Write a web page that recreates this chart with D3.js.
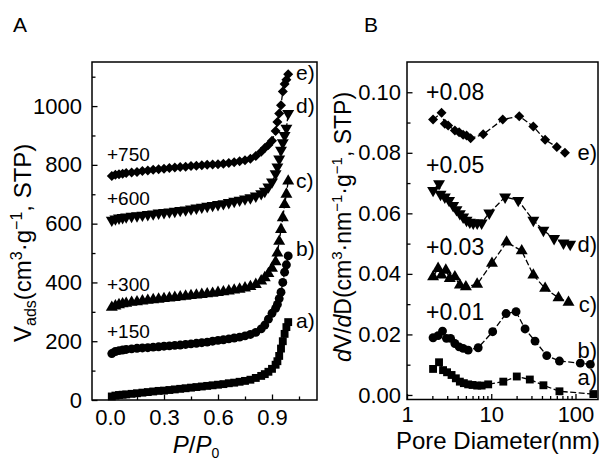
<!DOCTYPE html>
<html>
<head>
<meta charset="utf-8">
<script src="https://cdn.jsdelivr.net/npm/d3@7"></script>
<style>
  body { margin: 0; background: #fff; }
  svg { display: block; font-family: "Liberation Sans", Arial, sans-serif; }
</style>
</head>
<body>
<svg width="606" height="463"></svg>
<script>
// ---- panel A: isotherms (values already shifted by their offsets) ----
const pGrid = [0.01, 0.03, 0.05, 0.07, 0.09, 0.12, 0.15, 0.18, 0.21, 0.24, 0.27, 0.30, 0.33, 0.36,
  0.39, 0.42, 0.45, 0.48, 0.51, 0.54, 0.57, 0.60, 0.63, 0.66, 0.69, 0.72, 0.75, 0.78, 0.81, 0.84,
  0.86, 0.88, 0.90, 0.92, 0.93, 0.94, 0.95, 0.96, 0.97, 0.98, 0.99];
const isoA = [12, 15, 17, 18, 19, 21, 23, 25, 27, 29, 31, 32, 34, 36, 38, 40, 42, 44, 46, 48, 50,
  52, 54, 57, 59, 62, 65, 69, 75, 82, 88, 96, 106, 120, 132, 150, 175, 200, 225, 248, 265];
const isoB = [158, 165, 168, 170, 172, 174, 176, 177, 178, 180, 181, 183, 184, 186, 187, 189, 191,
  193, 195, 197, 200, 203, 205, 208, 211, 214, 218, 223, 230, 242, 255, 275, 295, 312, 325, 345,
  367, 400, 435, 460, 490];
const isoC = [315, 320, 324, 327, 329, 332, 334, 337, 339, 341, 343, 345, 347, 349, 351, 353, 355,
  357, 359, 361, 363, 366, 368, 371, 374, 377, 381, 386, 393, 405, 416, 430, 448, 470, 500, 540,
  580, 620, 665, 700, 745];
const isoD = [612, 616, 619, 621, 623, 625, 627, 629, 631, 633, 636, 638, 640, 642, 645, 647, 650,
  653, 656, 659, 662, 665, 668, 672, 676, 680, 684, 688, 694, 702, 710, 725, 742, 770, 793, 820,
  850, 875, 900, 925, 975];
const isoE = [762, 766, 768, 770, 772, 774, 776, 779, 781, 783, 785, 787, 789, 791, 793, 794, 796,
  797, 799, 800, 801, 802, 804, 806, 809, 812, 816, 821, 830, 845, 857, 868, 882, 915, 946, 975,
  1003, 1050, 1075, 1090, 1108];
const isoOffsets = ["+150", "+300", "+600", "+750"];
const isoNames = ["a)", "b)", "c)", "d)", "e)"];

// ---- panel B: pore size distributions ----
const poreA = [2.04, 2.40, 2.68, 2.99, 3.38, 3.80, 4.24, 4.73, 5.32, 6.0, 6.81, 7.69, 9.2, 13.9, 20.1, 28.7, 41.6, 64.5, 163];
const psdA = [0.0086, 0.0108, 0.0082, 0.0075, 0.0066, 0.0055, 0.0044, 0.0039, 0.0035, 0.0033, 0.0031, 0.0031, 0.0035, 0.0044, 0.0061, 0.0051, 0.0032, 0.0012, 0.0003];
const poreB = [2.04, 2.34, 2.64, 2.94, 3.29, 3.70, 4.16, 4.64, 5.32, 7.0, 10.4, 15.0, 19.7, 25.2, 33.1, 45.6, 64.5, 114, 150];
const psdB = [0.0189, 0.0196, 0.0211, 0.0187, 0.0187, 0.0170, 0.0159, 0.0154, 0.0148, 0.0156, 0.0209, 0.0269, 0.0275, 0.0218, 0.0178, 0.0130, 0.0112, 0.0105, 0.0101];
const poreC = [2.04, 2.34, 2.57, 2.89, 3.22, 3.70, 4.24, 5.0, 6.8, 10.2, 15.2, 23.0, 31.6, 43.6, 62.8, 82.6];
const psdC = [0.0390, 0.0418, 0.0396, 0.0412, 0.0385, 0.0390, 0.0363, 0.0357, 0.0366, 0.0435, 0.0505, 0.0476, 0.0396, 0.0352, 0.0321, 0.0306];
const poreD = [2.04, 2.40, 2.50, 2.81, 3.16, 3.53, 3.87, 4.24, 4.64, 5.09, 5.57, 6.11, 6.81, 7.69, 9.47, 14.6, 20.9, 31.6, 41.6, 55.7, 72, 86.5];
const psdD = [0.0676, 0.0698, 0.0663, 0.0654, 0.0643, 0.0626, 0.0612, 0.0599, 0.0588, 0.0577, 0.0571, 0.0568, 0.0568, 0.0568, 0.0601, 0.0654, 0.0643, 0.0577, 0.0544, 0.0517, 0.0502, 0.0498];
const poreE = [2.04, 2.57, 2.81, 3.08, 3.70, 4.16, 4.64, 5.09, 5.69, 8.03, 13.7, 21.5, 31.6, 43.6, 60.0, 75];
const psdE = [0.0910, 0.0932, 0.0896, 0.0890, 0.0874, 0.0868, 0.0860, 0.0857, 0.0848, 0.0861, 0.0910, 0.0921, 0.0887, 0.0843, 0.0819, 0.0800];
const psdOffsets = ["+0.01", "+0.03", "+0.05", "+0.08"];

const svg = d3.select("svg");
const font = 22;

// marker shapes, same order for a..e
const shapes = [
  { type: d3.symbolSquare, size: 62, rot: 0 },
  { type: d3.symbolCircle, size: 62, rot: 0 },
  { type: d3.symbolTriangle, size: 62, rot: 0 },
  { type: d3.symbolTriangle, size: 62, rot: 180 },
  { type: d3.symbolSquare, size: 50, rot: 45 }
];

function drawSeries(g, xs, ys, x, y, shape, dash) {
  const pts = xs.map((v, i) => [x(v), y(ys[i])]);
  g.append("path")
    .attr("d", d3.line()(pts))
    .attr("fill", "none")
    .attr("stroke", "#000")
    .attr("stroke-width", 1.3)
    .attr("stroke-dasharray", dash);
  g.selectAll(null)
    .data(pts)
    .enter()
    .append("path")
    .attr("d", d3.symbol().type(shape.type).size(shape.size))
    .attr("transform", d => "translate(" + d[0] + "," + d[1] + ") rotate(" + shape.rot + ")")
    .attr("fill", "#000");
}

function styleAxis(sel) {
  sel.select(".domain").remove();
  sel.selectAll("line").attr("stroke", "#000").attr("stroke-width", 1.3);
  sel.selectAll("text").attr("font-size", font).attr("fill", "#000")
    .attr("font-family", "Liberation Sans, Arial, sans-serif");
}

// ================= panel A =================
const xA = d3.scaleLinear().domain([-0.1, 1.15]).range([92, 317]);
const yA = d3.scaleLinear().domain([0, 1150]).range([400, 62]);

const gA = svg.append("g");

gA.append("g").attr("transform", "translate(0,400)")
  .call(d3.axisBottom(xA).tickValues([0.15, 0.45, 0.75, 1.05]).tickSize(-3.5).tickFormat(""))
  .call(styleAxis);
gA.append("g").attr("transform", "translate(0,400)")
  .call(d3.axisBottom(xA).tickValues([0, 0.3, 0.6, 0.9]).tickSize(-5.5).tickPadding(9)
    .tickFormat(d3.format(".1f")))
  .call(styleAxis);
gA.append("g").attr("transform", "translate(92,0)")
  .call(d3.axisLeft(yA).tickValues([100, 300, 500, 700, 900, 1100]).tickSize(-3.5).tickFormat(""))
  .call(styleAxis);
gA.append("g").attr("transform", "translate(92,0)")
  .call(d3.axisLeft(yA).tickValues([0, 200, 400, 600, 800, 1000]).tickSize(-5.5).tickPadding(10)
    .tickFormat(d3.format("d")))
  .call(styleAxis);

[isoA, isoB, isoC, isoD, isoE].forEach((ys, i) => drawSeries(gA, pGrid, ys, xA, yA, shapes[i], "5,2"));

gA.append("rect").attr("x", 92).attr("y", 62).attr("width", 225).attr("height", 338)
  .attr("fill", "none").attr("stroke", "#000").attr("stroke-width", 1.5);

// offsets and series names
const isoOffsetY = [338, 291, 205, 161];
isoOffsets.forEach((t, i) => {
  gA.append("text").attr("x", 107).attr("y", isoOffsetY[i]).attr("font-size", 19).text(t);
});
const isoNameY = [328, 256, 188, 113, 80];
isoNames.forEach((t, i) => {
  gA.append("text").attr("x", 296).attr("y", isoNameY[i]).attr("font-size", 21).text(t);
});

// axis titles A
const yTitleA = gA.append("text")
  .attr("transform", "translate(31,342) rotate(-90)")
  .attr("text-anchor", "start")
  .attr("font-size", 24);
yTitleA.append("tspan").text("V");
yTitleA.append("tspan").attr("font-size", 16).attr("dy", 5).text("ads");
yTitleA.append("tspan").attr("dy", -5).text("(cm");
yTitleA.append("tspan").attr("font-size", 16).attr("dy", -9).text("3");
yTitleA.append("tspan").attr("dy", 9).text("·g");
yTitleA.append("tspan").attr("font-size", 16).attr("dy", -9).text("−1");
yTitleA.append("tspan").attr("dy", 9).text(", STP)");

const xTitleA = gA.append("text")
  .attr("x", 196).attr("y", 453)
  .attr("text-anchor", "middle")
  .attr("font-size", 24);
xTitleA.append("tspan").attr("font-style", "italic").text("P");
xTitleA.append("tspan").text("/");
xTitleA.append("tspan").attr("font-style", "italic").text("P");
xTitleA.append("tspan").attr("font-size", 14).attr("dy", 5).text("0");

svg.append("text").attr("x", 13).attr("y", 32).attr("font-size", 21).text("A");

// ================= panel B =================
const xB = d3.scaleLog().domain([1, 185]).range([407, 598]);
const yB = d3.scaleLinear().domain([-0.0015, 0.11]).range([399.5, 62]);

const gB = svg.append("g");

const logMinor = xB.ticks().filter(d => ![1, 10, 100].includes(d));
gB.append("g").attr("transform", "translate(0,399.5)")
  .call(d3.axisBottom(xB).tickValues(logMinor).tickSize(-3.5).tickFormat(""))
  .call(styleAxis);
gB.append("g").attr("transform", "translate(0,399.5)")
  .call(d3.axisBottom(xB).tickValues([1, 10, 100]).tickSize(-5.5).tickPadding(7)
    .tickFormat(d3.format("d")))
  .call(styleAxis);
gB.append("g").attr("transform", "translate(407,0)")
  .call(d3.axisLeft(yB).tickValues([0.01, 0.03, 0.05, 0.07, 0.09]).tickSize(-3.5).tickFormat(""))
  .call(styleAxis);
gB.append("g").attr("transform", "translate(407,0)")
  .call(d3.axisLeft(yB).tickValues([0, 0.02, 0.04, 0.06, 0.08, 0.10]).tickSize(-5.5).tickPadding(6)
    .tickFormat(d3.format(".2f")))
  .call(styleAxis);

[[poreA, psdA], [poreB, psdB], [poreC, psdC], [poreD, psdD], [poreE, psdE]]
  .forEach((s, i) => drawSeries(gB, s[0], s[1], xB, yB, shapes[i], "6,2.5"));

gB.append("rect").attr("x", 407).attr("y", 62).attr("width", 191).attr("height", 337.5)
  .attr("fill", "none").attr("stroke", "#000").attr("stroke-width", 1.5);

const psdOffsetY = [320, 255, 173, 100];
psdOffsets.forEach((t, i) => {
  gB.append("text").attr("x", 426).attr("y", psdOffsetY[i]).attr("font-size", 23).text(t);
});
const psdNameY = [385, 358, 312, 252, 160];
isoNames.forEach((t, i) => {
  gB.append("text").attr("x", 597).attr("y", psdNameY[i]).attr("text-anchor", "end")
    .attr("font-size", 22).text(t);
});

const yTitleB = gB.append("text")
  .attr("transform", "translate(351,362) rotate(-90)")
  .attr("text-anchor", "start")
  .attr("font-size", 23);
yTitleB.append("tspan").attr("font-style", "italic").text("d");
yTitleB.append("tspan").text("V/");
yTitleB.append("tspan").attr("font-style", "italic").text("d");
yTitleB.append("tspan").text("D(cm");
yTitleB.append("tspan").attr("font-size", 15).attr("dy", -9).text("3");
yTitleB.append("tspan").attr("dy", 9).text("·nm");
yTitleB.append("tspan").attr("font-size", 15).attr("dy", -9).text("−1");
yTitleB.append("tspan").attr("dy", 9).text("·g");
yTitleB.append("tspan").attr("font-size", 15).attr("dy", -9).text("−1");
yTitleB.append("tspan").attr("dy", 9).text(", STP)");

gB.append("text").attr("x", 498).attr("y", 449).attr("text-anchor", "middle")
  .attr("font-size", 24).text("Pore Diameter(nm)");

svg.append("text").attr("x", 364).attr("y", 32).attr("font-size", 21).text("B");
</script>
</body>
</html>
